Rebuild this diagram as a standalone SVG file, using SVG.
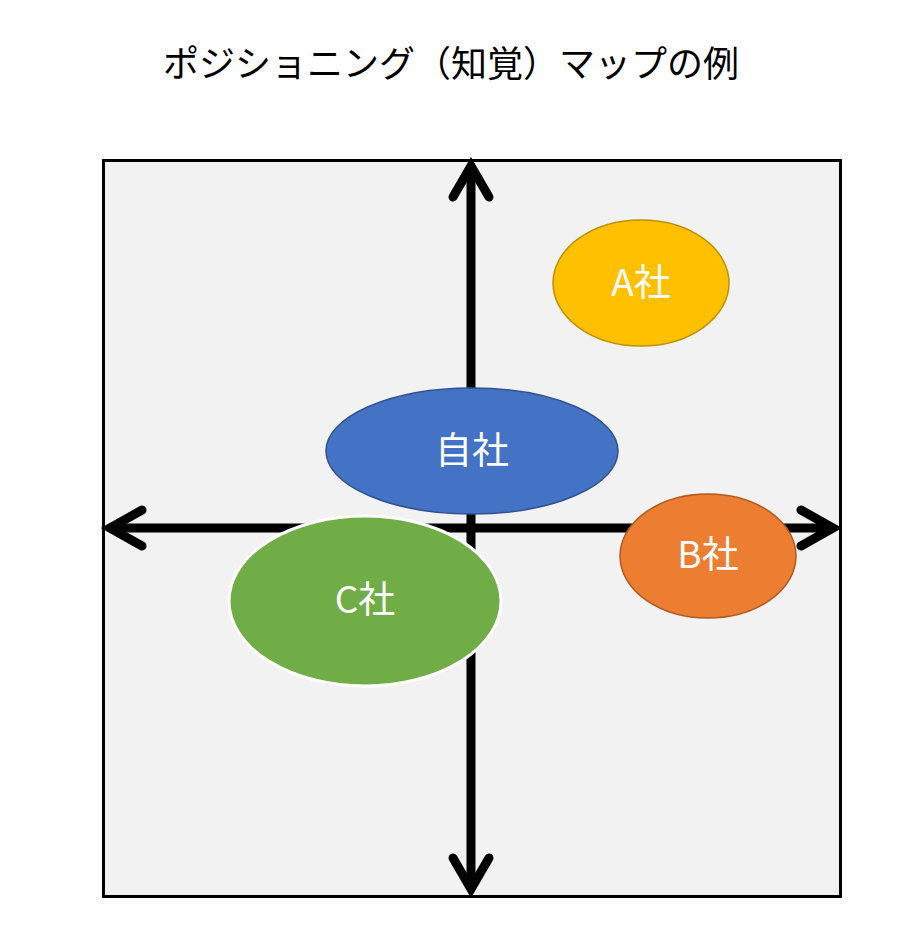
<svg xmlns="http://www.w3.org/2000/svg" width="921" height="936" viewBox="0 0 921 936">
<style>
.t{font-family:"Noto Sans CJK JP","Noto Sans",sans-serif;}
.title{font-size:36px;fill:#000;text-anchor:middle;}
.lbl{font-size:37px;fill:#fff;text-anchor:middle;}
.ax{stroke:#000;stroke-width:9;fill:none;stroke-linecap:round;stroke-linejoin:miter;}
</style>
<rect width="921" height="936" fill="#fff"/>
<text class="t title" x="451" y="77">ポジショニング（知覚）マップの例</text>
<g id="frame"><rect x="103.5" y="160.5" width="737" height="736" fill="#f2f2f2" stroke="#000" stroke-width="3"/></g>
<g id="connectors">
<line class="ax" x1="471" y1="168" x2="471" y2="888" stroke-linecap="butt"/>
<line class="ax" x1="111" y1="528" x2="832" y2="528" stroke-linecap="butt"/>
<polyline class="ax" points="453,197 471,166 489,197"/>
<polyline class="ax" points="453,858 471,889 489,858"/>
<polyline class="ax" points="142,510 110,528 142,546"/>
<polyline class="ax" points="801,510 833,528 801,546"/>
</g>
<g id="node-a"><ellipse cx="641" cy="283" rx="88" ry="63" fill="#ffc000" stroke="#bf9000" stroke-width="1.5"/><text class="t lbl" x="641" y="296">A社</text></g>
<g id="node-self"><ellipse cx="472" cy="451" rx="146" ry="63" fill="#4472c4" stroke="#2f528f" stroke-width="1.5"/><text class="t lbl" x="472" y="464">自社</text></g>
<g id="node-b"><ellipse cx="708" cy="556" rx="88" ry="62" fill="#ed7d31" stroke="#ae5a21" stroke-width="1.5"/><text class="t lbl" x="708" y="568">B社</text></g>
<g id="node-c"><ellipse cx="365" cy="601" rx="136" ry="85" fill="#70ad47" stroke="#fff" stroke-width="3"/><text class="t lbl" x="365" y="613">C社</text></g>
</svg>
